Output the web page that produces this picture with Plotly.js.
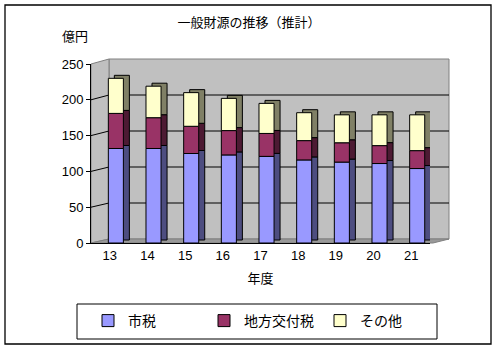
<!DOCTYPE html>
<html>
<head>
<meta charset="utf-8">
<script src="https://cdn.plot.ly/plotly-3.0.1.min.js"></script>
<style>html,body{margin:0;padding:0;background:#fff;}</style>
</head>
<body>
<div id="chart" style="width:497px;height:349px;"></div>
<script>
// ---- data ----
const years = ['13','14','15','16','17','18','19','20','21'];
const shizei = [132,132,125,123,121,116,113,111,104];     // 市税
const kofuzei = [49,43,38,34,32,27,27,25,25];             // 地方交付税
const sonota = [49,44,47,45,42,39,39,43,50];              // その他
const seriesNames = ['市税','地方交付税','その他'];
const yTicks = [0,50,100,150,200,250];

// ---- geometry (pixels) ----
const W = 497, H = 349;
const ML = 91, MR = 67, MT = 64, MB = 106;
const PW = W - ML - MR, PH = H - MT - MB;
const X = px => (px - ML) / PW;
const Y = py => (H - MB - py) / PH;
const YMAX = 250;
const frontY = v => (H - MB) - v * PH / YMAX;
const backY = v => 239 - v * 180 / YMAX;
const depthY = 3 * YMAX / PH;   // 3px depth in data units
const depthX = 6 / (PW / years.length); // 6px depth in category units

const frontCols = ['#9999FF','#993366','#FFFFCC'];
const sideCols = ['#4D4D80','#4D1A33','#808066'];
const series = [shizei, kofuzei, sonota];

const traces = [];
const bases = [];
let cum = years.map(() => 0);
series.forEach(s => { bases.push(cum.slice()); cum = cum.map((c, i) => c + s[i]); });

// back (side/top faces)
series.forEach((s, k) => {
  traces.push({
    type: 'bar', x: years, y: s, base: bases[k].map(b => b + depthY),
    offset: -0.04 + depthX, width: 0.4,
    marker: {color: sideCols[k], line: {color: '#000', width: 1}},
    showlegend: false, hoverinfo: 'skip'
  });
});
// front faces
series.forEach((s, k) => {
  traces.push({
    type: 'bar', x: years, y: s, base: bases[k], name: seriesNames[k],
    offset: -0.04, width: 0.4,
    marker: {color: frontCols[k], line: {color: '#000', width: 1}},
    hoverinfo: 'skip'
  });
});

const shapes = [];
// outer border
shapes.push({type:'rect', xref:'paper', yref:'paper', x0:X(5), x1:X(491), y0:Y(5), y1:Y(344),
  line:{color:'#000', width:1.3}, fillcolor:'rgba(0,0,0,0)', layer:'below'});
// legend box
shapes.push({type:'rect', xref:'paper', yref:'paper', x0:X(77), x1:X(437), y0:Y(304), y1:Y(339),
  line:{color:'#000', width:1}, fillcolor:'#fff', layer:'below'});
// back wall
shapes.push({type:'rect', xref:'paper', yref:'paper', x0:X(109), x1:X(449), y0:Y(backY(YMAX)), y1:Y(backY(0)),
  line:{color:'#808080', width:1}, fillcolor:'#C0C0C0', layer:'below'});
// left wall
shapes.push({type:'path', xref:'paper', yref:'paper', layer:'below',
  path:`M ${X(91)} ${Y(frontY(0))} L ${X(91)} ${Y(frontY(YMAX))} L ${X(109)} ${Y(backY(YMAX))} L ${X(109)} ${Y(backY(0))} Z`,
  line:{color:'#808080', width:1}, fillcolor:'#C0C0C0'});
// floor
shapes.push({type:'path', xref:'paper', yref:'paper', layer:'below',
  path:`M ${X(91)} ${Y(frontY(0))} L ${X(109)} ${Y(backY(0))} L ${X(449)} ${Y(backY(0))} L ${X(433)} ${Y(frontY(0))} Z`,
  line:{color:'#808080', width:1}, fillcolor:'#999999'});
// gridlines
yTicks.forEach(v => {
  if (v === 0 || v === YMAX) return;
  shapes.push({type:'line', xref:'paper', yref:'paper', layer:'below',
    x0:X(109), x1:X(449), y0:Y(backY(v)), y1:Y(backY(v)), line:{color:'#000', width:1}});
  shapes.push({type:'line', xref:'paper', yref:'paper', layer:'below',
    x0:X(91), x1:X(109), y0:Y(frontY(v)), y1:Y(backY(v)), line:{color:'#000', width:1}});
});

const jp = '"Noto Sans CJK JP", sans-serif';
const layout = {
  width: W, height: H,
  margin: {l: ML, r: MR, t: MT, b: MB, pad: 0, autoexpand: false},
  paper_bgcolor: '#fff', plot_bgcolor: 'rgba(0,0,0,0)',
  barmode: 'overlay',
  font: {family: '"Liberation Sans", Arial, sans-serif', size: 13, color: '#000'},
  title: {text: '一般財源の推移（推計）', font: {family: jp, size: 13, color:'#000'},
    xref: 'container', yref: 'container', x: 249/W, y: 1 - 22/H, xanchor: 'center', yanchor: 'middle'},
  xaxis: {type: 'category', categoryorder: 'array', categoryarray: years, range: [-0.5, years.length - 0.5],
    showline: true, linecolor: '#000', linewidth: 1, ticks: '', showgrid: false, zeroline: false,
    tickfont: {size: 13}, fixedrange: true, automargin: false,
    title: {text: '年度', font: {family: jp, size: 13}, standoff: 12}},
  yaxis: {range: [0, YMAX], tickvals: yTicks, showline: true, linecolor: '#000', linewidth: 1,
    ticks: 'outside', ticklen: 4, tickcolor: '#000', showgrid: false, zeroline: false,
    tickfont: {size: 13}, fixedrange: true, automargin: false},
  annotations: [{text: '億円', xref: 'paper', yref: 'paper', x: X(75), y: Y(36), showarrow: false,
    font: {family: jp, size: 13}, xanchor: 'center', yanchor: 'middle'}],
  shapes: shapes,
  legend: {orientation: 'h', xref: 'paper', yref: 'paper', x: X(88), y: Y(321),
    xanchor: 'left', yanchor: 'middle', borderwidth: 0, bgcolor: 'rgba(0,0,0,0)', itemwidth: 30,
    entrywidth: 71, entrywidthmode: 'pixels',
    font: {family: jp, size: 14}, traceorder: 'normal'},
  showlegend: true
};

Plotly.newPlot('chart', traces, layout, {displayModeBar: false, staticPlot: true});
</script>
</body>
</html>
